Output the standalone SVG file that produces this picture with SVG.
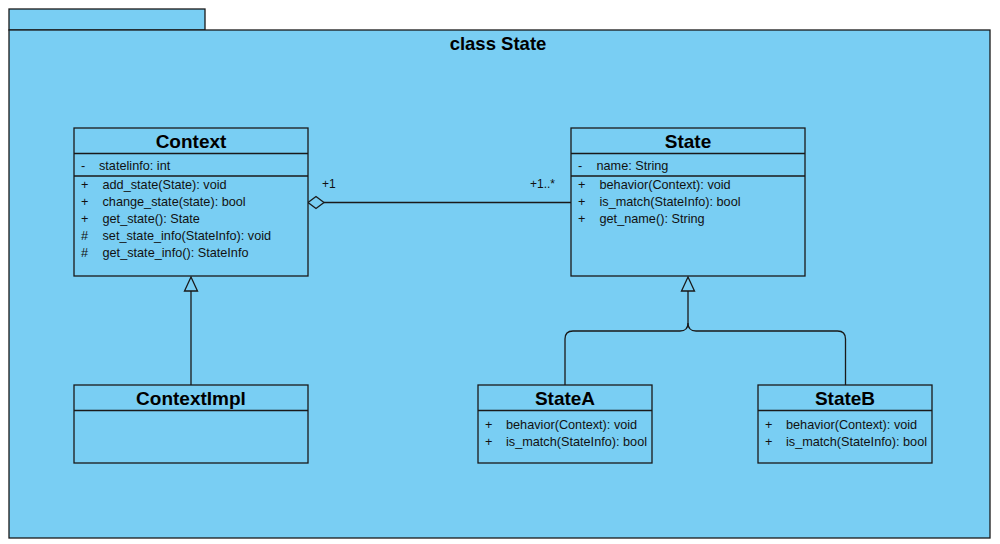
<svg xmlns="http://www.w3.org/2000/svg" width="1000" height="544" viewBox="0 0 1000 544">
<defs>
<style>
.box{fill:#79CEF3;stroke:#1a1a1a;stroke-width:1.3}
.ln{stroke:#1a1a1a;stroke-width:1.3;fill:none}
.t{font-family:"Liberation Sans",Arial,sans-serif;font-size:12.7px;fill:#111}
.h{font-family:"Liberation Sans",Arial,sans-serif;font-size:19px;font-weight:bold;fill:#000;text-anchor:middle}
</style>
</defs>
<rect width="1000" height="544" fill="#fff"/>
<g id="package">
<rect class="box" x="9" y="9" width="196" height="21"/>
<rect class="box" x="9" y="30" width="981" height="508"/>
<text class="h" x="498" y="50" style="font-size:18.5px">class State</text>
</g>
<g id="connectors">
<path class="ln" d="M324,202.5 H571"/>
<path d="M308,202.5 L316,196.5 L324,202.5 L316,208.5 Z" fill="#79CEF3" stroke="#1a1a1a" stroke-width="1.3"/>
<text class="t" x="322" y="188" style="font-size:12px">+1</text>
<text class="t" x="530" y="188" style="font-size:12px">+1..*</text>
<path class="ln" d="M191,385 V291"/>
<path d="M191,277 L184.5,291 L197.5,291 Z" fill="#79CEF3" stroke="#1a1a1a" stroke-width="1.3"/>
<path class="ln" d="M565,385 V339 Q565,331 573,331 H680 Q688,331 688,323 V291"/>
<path class="ln" d="M845.5,385 V339 Q845.5,331 837.5,331 H696 Q688,331 688,323"/>
<path d="M688,277 L681.5,291 L694.5,291 Z" fill="#79CEF3" stroke="#1a1a1a" stroke-width="1.3"/>
</g>
<g id="Context">
<rect class="box" x="74" y="128" width="234" height="148"/>
<path class="ln" d="M74,153.5 H308 M74,176 H308"/>
<text class="h" x="191" y="147.5">Context</text>
<text class="t" x="81" y="169.5">-</text><text class="t" x="99" y="169.5">statelinfo: int</text>
<text class="t" x="81" y="188.5">+</text><text class="t" x="102.5" y="188.5">add_state(State): void</text>
<text class="t" x="81" y="205.5">+</text><text class="t" x="102.5" y="205.5">change_state(state): bool</text>
<text class="t" x="81" y="222.5">+</text><text class="t" x="102.5" y="222.5">get_state(): State</text>
<text class="t" x="81" y="239.5">#</text><text class="t" x="102.5" y="239.5">set_state_info(StateInfo): void</text>
<text class="t" x="81" y="256.5">#</text><text class="t" x="102.5" y="256.5">get_state_info(): StateInfo</text>
</g>
<g id="State">
<rect class="box" x="571" y="128" width="234" height="148"/>
<path class="ln" d="M571,153.5 H805 M571,176 H805"/>
<text class="h" x="688" y="147.5">State</text>
<text class="t" x="578" y="169.5">-</text><text class="t" x="596.5" y="169.5">name: String</text>
<text class="t" x="578" y="188.5">+</text><text class="t" x="599.5" y="188.5">behavior(Context): void</text>
<text class="t" x="578" y="205.5">+</text><text class="t" x="599.5" y="205.5">is_match(StateInfo): bool</text>
<text class="t" x="578" y="222.5">+</text><text class="t" x="599.5" y="222.5">get_name(): String</text>
</g>
<g id="ContextImpl">
<rect class="box" x="74" y="385" width="234" height="78"/>
<path class="ln" d="M74,410.5 H308"/>
<text class="h" x="191" y="404.5">ContextImpl</text>
</g>
<g id="StateA">
<rect class="box" x="478" y="385" width="174" height="78"/>
<path class="ln" d="M478,410.5 H652"/>
<text class="h" x="565" y="404.5">StateA</text>
<text class="t" x="485" y="428.5">+</text><text class="t" x="506" y="428.5">behavior(Context): void</text>
<text class="t" x="485" y="445.5">+</text><text class="t" x="506" y="445.5">is_match(StateInfo): bool</text>
</g>
<g id="StateB">
<rect class="box" x="758" y="385" width="174" height="78"/>
<path class="ln" d="M758,410.5 H932"/>
<text class="h" x="845" y="404.5">StateB</text>
<text class="t" x="765" y="428.5">+</text><text class="t" x="786" y="428.5">behavior(Context): void</text>
<text class="t" x="765" y="445.5">+</text><text class="t" x="786" y="445.5">is_match(StateInfo): bool</text>
</g>
</svg>
